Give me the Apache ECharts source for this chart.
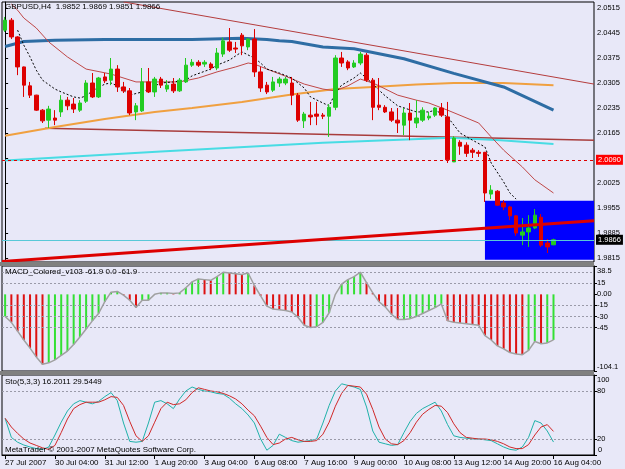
<!DOCTYPE html>
<html lang="en">
  <head>
    <meta charset="UTF-8" />
    <title>GBPUSD,H4</title>
    <script src="https://cdn.jsdelivr.net/npm/echarts@6/dist/echarts.min.js"></script>
    <style>
      html, body { margin: 0; padding: 0; }
      #app { width: 625px; height: 469px; }
    </style>
  </head>
  <body>
    <div id="app"></div>
    <script>
      // x axis tick labels, one every 8 bars (H4)
      const tickLabels = ["27 Jul 2007", "30 Jul 04:00", "31 Jul 12:00", "1 Aug 20:00", "3 Aug 04:00", "6 Aug 08:00",
        "7 Aug 16:00", "9 Aug 00:00", "10 Aug 08:00", "13 Aug 12:00", "14 Aug 20:00", "16 Aug 04:00"];
      const slotCount = 95; // bars + empty space on the right

      // candles
      const opens = [2.0453, 2.0481, 2.0434, 2.0350, 2.0297, 2.0271, 2.0229, 2.0201, 2.0207, 2.0224,
        2.0257, 2.0246, 2.0229, 2.0254, 2.0305, 2.0266, 2.0322, 2.0313, 2.0344, 2.0294,
        2.0283, 2.0224, 2.0227, 2.0308, 2.0280, 2.0316, 2.0288, 2.0302, 2.0283, 2.0308,
        2.0355, 2.0363, 2.0358, 2.0358, 2.0347, 2.0386, 2.0420, 2.0403, 2.0439, 2.0406,
        2.0428, 2.0336, 2.0299, 2.0285, 2.0305, 2.0305, 2.0305, 2.0271, 2.0199, 2.0215,
        2.0218, 2.0215, 2.0212, 2.0237, 2.0375, 2.0364, 2.0350, 2.0361, 2.0383, 2.0313,
        2.0243, 2.0237, 2.0224, 2.0201, 2.0187, 2.0221, 2.0193, 2.0201, 2.0207, 2.0215,
        2.0235, 2.0210, 2.0084, 2.0139, 2.0131, 2.0117, 2.0111, 2.0111, 1.9994, 2.0002,
        1.9969, 1.9958, 1.9933, 1.9879, 1.9888, 1.9899, 1.9929, 1.9857, 1.9852];
      const highs = [2.0490, 2.0487, 2.0436, 2.0351, 2.0308, 2.0272, 2.0232, 2.0241, 2.0229, 2.0271,
        2.0266, 2.0263, 2.0257, 2.0313, 2.0333, 2.0322, 2.0333, 2.0375, 2.0355, 2.0308,
        2.0291, 2.0249, 2.0347, 2.0347, 2.0322, 2.0322, 2.0313, 2.0319, 2.0319, 2.0375,
        2.0372, 2.0369, 2.0369, 2.0363, 2.0403, 2.0432, 2.0459, 2.0420, 2.0445, 2.0431,
        2.0456, 2.0350, 2.0308, 2.0322, 2.0322, 2.0322, 2.0322, 2.0277, 2.0224, 2.0252,
        2.0252, 2.0221, 2.0246, 2.0383, 2.0392, 2.0369, 2.0369, 2.0392, 2.0389, 2.0319,
        2.0319, 2.0243, 2.0235, 2.0235, 2.0235, 2.0249, 2.0257, 2.0237, 2.0224, 2.0237,
        2.0249, 2.0252, 2.0156, 2.0145, 2.0139, 2.0123, 2.0117, 2.0112, 2.0019, 2.0005,
        1.9977, 1.9961, 1.9935, 1.9927, 1.9935, 1.9952, 1.9938, 1.9868, 1.9869];
      const lows = [2.0448, 2.0428, 2.0327, 2.0266, 2.0263, 2.0227, 2.0193, 2.0179, 2.0187, 2.0210,
        2.0229, 2.0221, 2.0224, 2.0249, 2.0263, 2.0263, 2.0305, 2.0299, 2.0280, 2.0277,
        2.0215, 2.0201, 2.0224, 2.0277, 2.0266, 2.0291, 2.0280, 2.0277, 2.0280, 2.0305,
        2.0350, 2.0350, 2.0350, 2.0341, 2.0341, 2.0378, 2.0392, 2.0389, 2.0383, 2.0397,
        2.0322, 2.0280, 2.0274, 2.0280, 2.0294, 2.0299, 2.0243, 2.0196, 2.0179, 2.0187,
        2.0187, 2.0204, 2.0154, 2.0229, 2.0350, 2.0341, 2.0347, 2.0355, 2.0308, 2.0201,
        2.0229, 2.0221, 2.0196, 2.0165, 2.0159, 2.0145, 2.0179, 2.0196, 2.0201, 2.0210,
        2.0210, 2.0081, 2.0084, 2.0104, 2.0098, 2.0095, 2.0098, 1.9972, 1.9980, 1.9961,
        1.9949, 1.9921, 1.9877, 1.9851, 1.9846, 1.9896, 1.9846, 1.9829, 1.9851];
      const closes = [2.0481, 2.0434, 2.0350, 2.0299, 2.0271, 2.0229, 2.0199, 2.0232, 2.0201, 2.0257,
        2.0241, 2.0232, 2.0249, 2.0305, 2.0266, 2.0319, 2.0311, 2.0344, 2.0294, 2.0283,
        2.0221, 2.0241, 2.0308, 2.0280, 2.0316, 2.0299, 2.0299, 2.0283, 2.0313, 2.0355,
        2.0363, 2.0355, 2.0363, 2.0347, 2.0389, 2.0423, 2.0397, 2.0400, 2.0409, 2.0428,
        2.0336, 2.0291, 2.0280, 2.0308, 2.0316, 2.0316, 2.0271, 2.0201, 2.0218, 2.0210,
        2.0212, 2.0212, 2.0237, 2.0375, 2.0361, 2.0347, 2.0361, 2.0386, 2.0313, 2.0237,
        2.0237, 2.0224, 2.0201, 2.0193, 2.0221, 2.0201, 2.0207, 2.0229, 2.0212, 2.0235,
        2.0215, 2.0090, 2.0151, 2.0128, 2.0108, 2.0111, 2.0108, 1.9997, 2.0005, 1.9963,
        1.9958, 1.9933, 1.9885, 1.9888, 1.9899, 1.9935, 1.9851, 1.9846, 1.9866];

      // overlays, as [bar index, price]
      const maFast = [[2, 2.0453], [3, 2.0411], [4, 2.0378], [5, 2.0341], [6, 2.0313], [8, 2.0288], [9, 2.0280],
        [11, 2.0266], [12, 2.0263], [13, 2.0269], [14, 2.0283], [16, 2.0302], [17, 2.0305], [18, 2.0297],
        [19, 2.0285], [20, 2.0271], [22, 2.0280], [23, 2.0288], [25, 2.0305], [27, 2.0308], [29, 2.0313],
        [30, 2.0325], [33, 2.0344], [34, 2.0355], [36, 2.0369], [37, 2.0381], [38, 2.0392], [40, 2.0375],
        [41, 2.0361], [42, 2.0344], [44, 2.0333], [46, 2.0319], [48, 2.0291], [49, 2.0266], [51, 2.0249],
        [52, 2.0241], [53, 2.0277], [54, 2.0299], [56, 2.0319], [57, 2.0333], [58, 2.0319], [60, 2.0285],
        [61, 2.0269], [63, 2.0241], [66, 2.0224], [68, 2.0224], [69, 2.0229], [71, 2.0210], [73, 2.0165],
        [75, 2.0145], [77, 2.0126], [78, 2.0081], [80, 2.0028], [81, 1.9997], [82, 1.9980]];
      const maMid = [[1, 2.0526], [2, 2.0509], [3, 2.0487], [5, 2.0459], [7, 2.0420], [10, 2.0378], [13, 2.0344],
        [17, 2.0330], [21, 2.0308], [25, 2.0308], [28, 2.0308], [31, 2.0319], [34, 2.0336], [37, 2.0350],
        [39, 2.0361], [40, 2.0358], [42, 2.0344], [45, 2.0324], [48, 2.0302], [51, 2.0288], [53, 2.0283],
        [55, 2.0297], [57, 2.0316], [59, 2.0305], [60, 2.0297], [63, 2.0271], [66, 2.0257], [68, 2.0249],
        [71, 2.0229], [76, 2.0193], [78, 2.0154], [80, 2.0117], [83, 2.0070], [85, 2.0034], [88, 1.9997]];
      const maSlow = [[0, 2.0407], [3, 2.0421], [8, 2.0425], [16, 2.0427], [24, 2.0427], [30, 2.0427],
        [38, 2.0430], [42, 2.0427], [44, 2.0423], [46, 2.0421], [51, 2.0406], [56, 2.0401], [64, 2.0373],
        [72, 2.0332], [80, 2.0294], [88, 2.0229]];
      const maLong = [[0, 2.0157], [8, 2.0182], [16, 2.0204], [24, 2.0224], [30, 2.0235], [38, 2.0252],
        [46, 2.0273], [53, 2.0288], [59, 2.0294], [66, 2.0301], [72, 2.0305], [80, 2.0305], [88, 2.0299]];
      const cyanLine = [[0, 2.0088], [25, 2.0113], [51, 2.0138], [71.5, 2.0152], [79.5, 2.0145], [88, 2.0134]];
      const trendTop = [[19, 2.0532], [94.5, 2.0302]];
      const trendMid = [[6.4, 2.0178], [94.5, 2.0145]];
      const trendLow = [[-0.5, 1.9805], [94.5, 1.9919]];
      const blueBox = [77, 94.5, 1.9975, 1.9810];
      const dashedLevel = 2.0090;
      const bidPrice = 1.9866;

      const priceTicks = [2.0515, 2.0445, 2.0375, 2.0305, 2.0235, 2.0165, 2.0095, 2.0025, 1.9955, 1.9885, 1.9815];

      // MACD_Colored histogram
      const macd = [-30, -38, -50, -62, -73, -85, -95, -93, -89, -83, -77, -68, -58, -47, -36, -26, -10, 3, 4, -1,
        -8, -18, -8, -8, 0, 2, 2, 1, 2, 9, 17, 21, 20, 19, 24, 30, 29, 28, 27, 29,
        12, -2, -16, -20, -21, -22, -24, -31, -42, -45, -44, -38, -25, 0, 14, 20, 24, 30, 16, 2,
        -10, -17, -27, -34, -34, -33, -30, -26, -22, -18, -13, -36, -38, -39, -40, -41, -42, -56, -62, -70,
        -74, -79, -81, -82, -76, -64, -67, -66, -61.9];
      const macdLevels = [30, 15, -15, -30, -45];
      const macdTicks = [38.5, 15, 0, -15, -30, -45, -104.1];

      // Stochastic (5,3,3)
      const stoMain = [45.6, 22, 16, 12.5, 10, 8, 7, 10, 25, 41, 55, 64, 68, 66, 64, 67, 73, 78, 68, 40,
        17, 16, 17, 40, 66, 68, 64, 58, 70, 80, 85, 82, 80, 79, 77, 76, 71, 64, 58, 50,
        40, 20, 6, 12, 26, 22, 18, 16, 17, 18, 20, 40, 62, 80, 89, 87, 85, 82, 60, 30,
        16, 14, 12, 13, 28, 42, 52, 58, 62, 66, 55, 38, 24, 22, 21, 20, 20, 19, 18, 14,
        10, 7, 6, 10, 22, 43, 40, 30, 16.2];
      const stoSignal = [46, 35, 27, 20, 15, 12, 9, 7, 12, 28, 45, 58, 63, 66, 66, 66, 69, 73, 72, 62,
        42, 24, 17, 24, 41, 58, 66, 63, 64, 69, 78, 84, 82, 80, 79, 77, 74, 70, 64, 56,
        49, 36, 22, 13, 15, 20, 22, 19, 17, 17, 18, 26, 41, 61, 77, 87, 86, 85, 76, 57,
        35, 20, 14, 13, 18, 28, 41, 51, 57, 62, 61, 53, 39, 28, 22, 21, 20, 20, 19, 17,
        14, 10, 8, 8, 13, 25, 35, 38, 29.5];
      const stoLevels = [80, 20];
      const stoTicks = [100, 80, 20, 0];

      const font = "Liberation Sans";
      const bg = "#e8e8f8";
      const last = opens.length - 1;

      const categories = [];
      for (let i = 0; i < slotCount; i++) {
        categories.push(i % 8 === 0 && i / 8 < tickLabels.length ? tickLabels[i / 8] : "");
      }
      const candles = opens.map((o, i) => [o, closes[i], lows[i], highs[i]]);

      const chart = echarts.init(document.getElementById("app"));

      const gridBase = {
        left: 2, right: 31, show: true, backgroundColor: bg,
        borderColor: "#000", borderWidth: 1, outerBoundsMode: "none",
      };
      const txt = { color: "#000", fontFamily: font, fontSize: 7.5 };
      // MT4 keeps the panel's top / bottom labels inside the panel
      const rightAxis = (gridIndex, min, max, ticks, labels, fmt) => ({
        type: "value", gridIndex, position: "right", min, max,
        splitLine: { show: false },
        axisLine: { show: true, lineStyle: { color: "#000", width: 1 } },
        axisTick: { show: true, length: 3, customValues: ticks, lineStyle: { color: "#000" } },
        axisLabel: Object.assign({
          customValues: labels, margin: 3, showMinLabel: true, showMaxLabel: true, hideOverlap: false,
          formatter: (v) => {
            const s = fmt(v);
            if (v === max && gridIndex > 0) return "{dn|" + s + "}";
            if (v === min && gridIndex > 0) return "{up|" + s + "}";
            return s;
          },
          rich: {
            dn: Object.assign({ padding: [9, 0, 0, 0] }, txt),
            up: Object.assign({ padding: [0, 0, 9, 0] }, txt),
          },
        }, txt),
      });
      const ovl = (data, color, width, z, type) => ({
        type: "line", xAxisIndex: 1, yAxisIndex: 0, data, symbol: "none", silent: true, z,
        lineStyle: { color, width, type: type || "solid" },
      });
      const tagLabel = (text, bgColor) => ({
        show: true, position: "end", formatter: text, distance: 2, color: "#fff",
        backgroundColor: bgColor, padding: [1, 2], fontFamily: font, fontSize: 7.5,
      });
      const dotted = { color: "#9a9aa8", type: [2, 2], width: 1 };

      chart.setOption({
        animation: false,
        backgroundColor: bg,
        title: [
          { text: `GBPUSD,H4  ${opens[last].toFixed(4)} ${highs[last].toFixed(4)} ${lows[last].toFixed(4)} ${closes[last].toFixed(4)}`, left: 5, top: 3 },
          { text: "MACD_Colored_v103 -61.9 0.0 -61.9", left: 5, top: 268 },
          { text: "Sto(5,3,3) 16.2011 29.5449", left: 5, top: 378 },
          { text: "MetaTrader © 2001-2007 MetaQuotes Software Corp.", left: 5, top: 446 },
          // the stochastic's bottom scale value, the axis drops it at the panel corner
          { text: String(stoTicks[3]), left: 598, top: 446 },
        ].map((t) => Object.assign(t, {
          padding: 0,
          textStyle: { fontSize: t.left > 500 ? 7.5 : 8, fontWeight: "normal", color: "#000", fontFamily: font },
        })),
        grid: [
          Object.assign({ top: 2, height: 260 }, gridBase),
          Object.assign({ top: 266, height: 105 }, gridBase),
          Object.assign({ top: 375, height: 80 }, gridBase),
        ],
        xAxis: [
          { type: "category", gridIndex: 0, data: categories, show: false },
          { type: "value", gridIndex: 0, min: -0.5, max: slotCount - 0.5, show: false },
          { type: "category", gridIndex: 1, data: categories, show: false },
          {
            type: "category", gridIndex: 2, data: categories,
            axisLine: { show: true, lineStyle: { color: "#000" } },
            axisTick: { show: true, alignWithLabel: true, length: 4, interval: (i, v) => v !== "", lineStyle: { color: "#000" } },
            axisLabel: { interval: 0, align: "left", margin: 4, color: "#000", fontFamily: font, fontSize: 8 },
          },
        ],
        yAxis: [
          rightAxis(0, 1.98038, 2.05318, priceTicks, priceTicks, (v) => v.toFixed(4)),
          rightAxis(1, -104.1, 38.5, macdTicks, macdTicks, (v) => (v === 0 ? "0.00" : String(v))),
          rightAxis(2, 0, 100, stoTicks, stoTicks.slice(0, 3), (v) => String(v)),
        ],
        graphic: [
          { type: "rect", shape: { x: 0, y: 262, width: 594, height: 4 }, style: { fill: "#808080" }, z: 10 },
          { type: "rect", shape: { x: 0, y: 371, width: 594, height: 4 }, style: { fill: "#808080" }, z: 10 },
        ],
        series: [
          ovl(trendTop, "#b43c3c", 1, 2),
          ovl(trendMid, "#a83c3c", 1.5, 2),
          ovl(cyanLine, "#48dce4", 2, 2),
          ovl(maLong, "#f0a040", 2, 2),
          ovl(maSlow, "#2e6da4", 3, 2),
          ovl(maMid, "#c04848", 1, 2),
          ovl(maFast, "#000", 1, 2, [2, 2]),
          {
            type: "custom", xAxisIndex: 1, yAxisIndex: 0, z: 3, silent: true,
            data: [blueBox],
            renderItem: (params, api) => {
              const a = api.coord([api.value(0), api.value(2)]);
              const b = api.coord([api.value(1), api.value(3)]);
              return { type: "rect", shape: { x: a[0], y: a[1], width: b[0] - a[0], height: b[1] - a[1] }, style: { fill: "#0000ff" } };
            },
          },
          {
            type: "candlestick", xAxisIndex: 0, yAxisIndex: 0, data: candles, barWidth: 4, z: 4, silent: true,
            itemStyle: { color: "#22cc22", color0: "#dd0000", borderColor: "#22cc22", borderColor0: "#dd0000", borderWidth: 1 },
          },
          Object.assign(ovl(trendLow, "#dd0000", 3, 5), {
            markLine: {
              symbol: "none", silent: true, precision: 4,
              data: [
                { yAxis: dashedLevel, lineStyle: { color: "#dd0000", type: [3, 3], width: 1 }, label: tagLabel(dashedLevel.toFixed(4), "#ff0000") },
                { yAxis: bidPrice, lineStyle: { color: "#58c8d8", type: "solid", width: 1 }, label: tagLabel(bidPrice.toFixed(4), "#000") },
              ],
            },
          }),
          {
            type: "bar", xAxisIndex: 2, yAxisIndex: 1, barWidth: 2, silent: true,
            data: macd.map((v, i) => ({
              value: v,
              itemStyle: { color: i === 0 || v >= macd[i - 1] ? "#33e033" : "#dd1111" },
            })),
            markLine: {
              symbol: "none", silent: true, label: { show: false }, lineStyle: dotted,
              data: macdLevels.map((v) => ({ yAxis: v })),
            },
          },
          {
            type: "line", xAxisIndex: 2, yAxisIndex: 1, data: macd, symbol: "none", silent: true,
            lineStyle: { color: "#a0a0a0", width: 1.5 },
          },
          {
            type: "line", xAxisIndex: 3, yAxisIndex: 2, data: stoMain, symbol: "none", silent: true,
            lineStyle: { color: "#20b2aa", width: 1 },
            markLine: {
              symbol: "none", silent: true, label: { show: false }, lineStyle: dotted,
              data: stoLevels.map((v) => ({ yAxis: v })),
            },
          },
          {
            type: "line", xAxisIndex: 3, yAxisIndex: 2, data: stoSignal, symbol: "none", silent: true,
            lineStyle: { color: "#d02828", width: 1 },
          },
        ],
      });
    </script>
  </body>
</html>
